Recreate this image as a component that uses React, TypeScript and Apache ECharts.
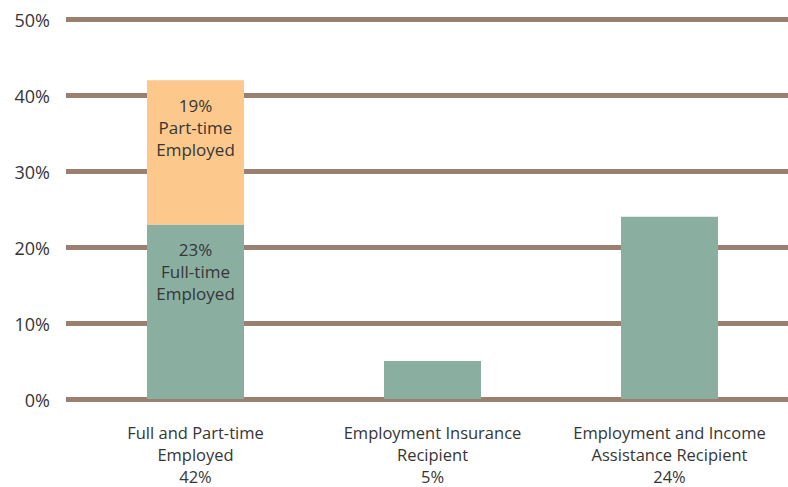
import React, { useEffect, useRef } from "react";
import * as echarts from "echarts";

const categories = [
  "Full and Part-time\nEmployed\n42%",
  "Employment Insurance\nRecipient\n5%",
  "Employment and Income\nAssistance Recipient\n24%",
];
const fullTimeValues = [23, 5, 24];
const partTimeValues = [19, null, null];
const fullTimeLabels = ["23%\nFull-time\nEmployed", "", ""];
const partTimeLabels = ["19%\nPart-time\nEmployed", "", ""];
const yTicks = [0, 10, 20, 30, 40, 50];

const FONT = "'Open Sans', sans-serif";
const TEXT = "#363636";

export default function App() {
  const ref = useRef<HTMLDivElement>(null);
  useEffect(() => {
    const chart = echarts.init(ref.current!, null, { renderer: "svg" });
    chart.setOption({
      animation: false,
      grid: [
        { left: 66, right: 0, top: 19.5, bottom: 87.5 },
        { left: 77, width: 718, top: 19.5, bottom: 87.5 },
      ],
      xAxis: [
        { type: "value", gridIndex: 0, show: false, min: 0, max: 1 },
        {
          type: "category",
          gridIndex: 1,
          data: categories,
          axisLine: { show: false },
          axisTick: { show: false },
          axisLabel: {
            color: TEXT,
            fontFamily: FONT,
            fontSize: 16.5,
            lineHeight: 22,
            margin: 22,
            interval: 0,
          },
        },
      ],
      yAxis: [
        {
          type: "value",
          gridIndex: 0,
          min: 0,
          max: 50,
          interval: 10,
          axisLine: { show: false },
          axisTick: { show: false },
          axisLabel: {
            color: TEXT,
            fontFamily: FONT,
            fontSize: 18,
            margin: 16,
            formatter: (v: number) => (yTicks.includes(v) ? v + "%" : ""),
          },
          splitLine: { lineStyle: { color: "#9A8070", width: 5 } },
        },
        {
          type: "value",
          gridIndex: 1,
          min: 0,
          max: 50,
          interval: 10,
          show: false,
          splitLine: { show: false },
        },
      ],
      series: [
        {
          type: "bar",
          xAxisIndex: 1,
          yAxisIndex: 1,
          stack: "a",
          barWidth: 97,
          z: 5,
          data: fullTimeValues,
          itemStyle: { color: "#8AAFA1" },
          label: {
            show: true,
            position: "insideTop",
            distance: 14,
            color: TEXT,
            fontFamily: FONT,
            fontSize: 17,
            lineHeight: 22,
            formatter: (p: any) => fullTimeLabels[p.dataIndex],
          },
        },
        {
          type: "bar",
          xAxisIndex: 1,
          yAxisIndex: 1,
          stack: "a",
          barWidth: 97,
          z: 5,
          data: partTimeValues,
          itemStyle: { color: "#FDC88B" },
          label: {
            show: true,
            position: "insideTop",
            distance: 14,
            color: TEXT,
            fontFamily: FONT,
            fontSize: 17,
            lineHeight: 22,
            formatter: (p: any) => partTimeLabels[p.dataIndex],
          },
        },
      ],
    });
    return () => chart.dispose();
  }, []);
  return <div ref={ref} style={{ width: 788, height: 487, position: "absolute", left: 0, top: 0 }} />;
}
